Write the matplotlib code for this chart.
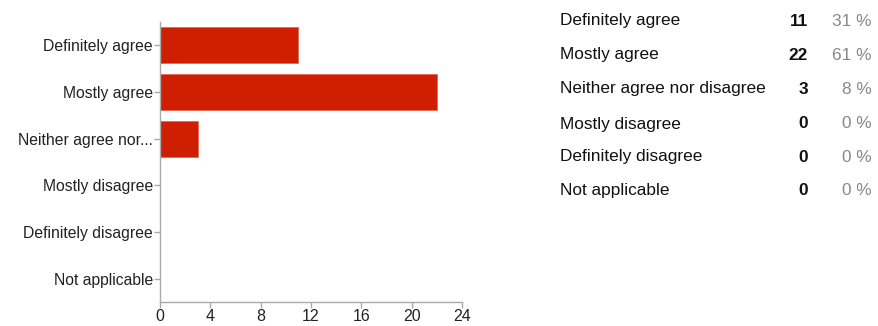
import matplotlib
matplotlib.use("Agg")
import matplotlib.pyplot as plt

plt.rcParams['font.family'] = ['Liberation Sans', 'DejaVu Sans']

categories = ["Definitely agree", "Mostly agree", "Neither agree nor disagree",
              "Mostly disagree", "Definitely disagree", "Not applicable"]
axis_labels = ["Definitely agree", "Mostly agree", "Neither agree nor...",
               "Mostly disagree", "Definitely disagree", "Not applicable"]
counts = [11, 22, 3, 0, 0, 0]
percents = ["31 %", "61 %", "8 %", "0 %", "0 %", "0 %"]
xticks = [0, 4, 8, 12, 16, 20, 24]

W, H = 879, 326
fig = plt.figure(figsize=(W / 100, H / 100), dpi=100)
ax = fig.add_axes([160 / W, 1 - 302 / H, (462 - 160) / W, (302 - 22) / H])

y = list(range(len(categories)))
ax.barh(y, counts, height=0.77, color='#d01f00', edgecolor='#e06a55', linewidth=0.6)
ax.set_ylim(len(categories) - 0.5, -0.5)
ax.set_xlim(0, 24)
ax.set_xticks(xticks)
ax.set_xticklabels([str(t) for t in xticks], fontsize=11.5)
ax.set_yticks(y)
ax.set_yticklabels(axis_labels, fontsize=11.3)
for s in ['top', 'right']:
    ax.spines[s].set_visible(False)
for s in ['left', 'bottom']:
    ax.spines[s].set_color('#aaaaaa')
    ax.spines[s].set_linewidth(1.0)
ax.tick_params(axis='both', colors='#aaaaaa', length=4, width=1.0, labelcolor='#222222')
ax.tick_params(axis='x', pad=1)
ax.tick_params(axis='y', pad=1)

# table on the right
row_y = [21, 55, 89, 124, 157, 191]
for cat, c, p, ry in zip(categories, counts, percents, row_y):
    fy = 1 - ry / H
    fig.text(560 / W, fy, cat, fontsize=12.4, color='#111111', ha='left', va='center')
    fig.text(808 / W, fy, str(c), fontsize=12.4, color='#111111', ha='right', va='center',
             fontweight='bold')
    fig.text(872 / W, fy, p, fontsize=12.4, color='#888888', ha='right', va='center')

fig.savefig('out.png', dpi=100)
